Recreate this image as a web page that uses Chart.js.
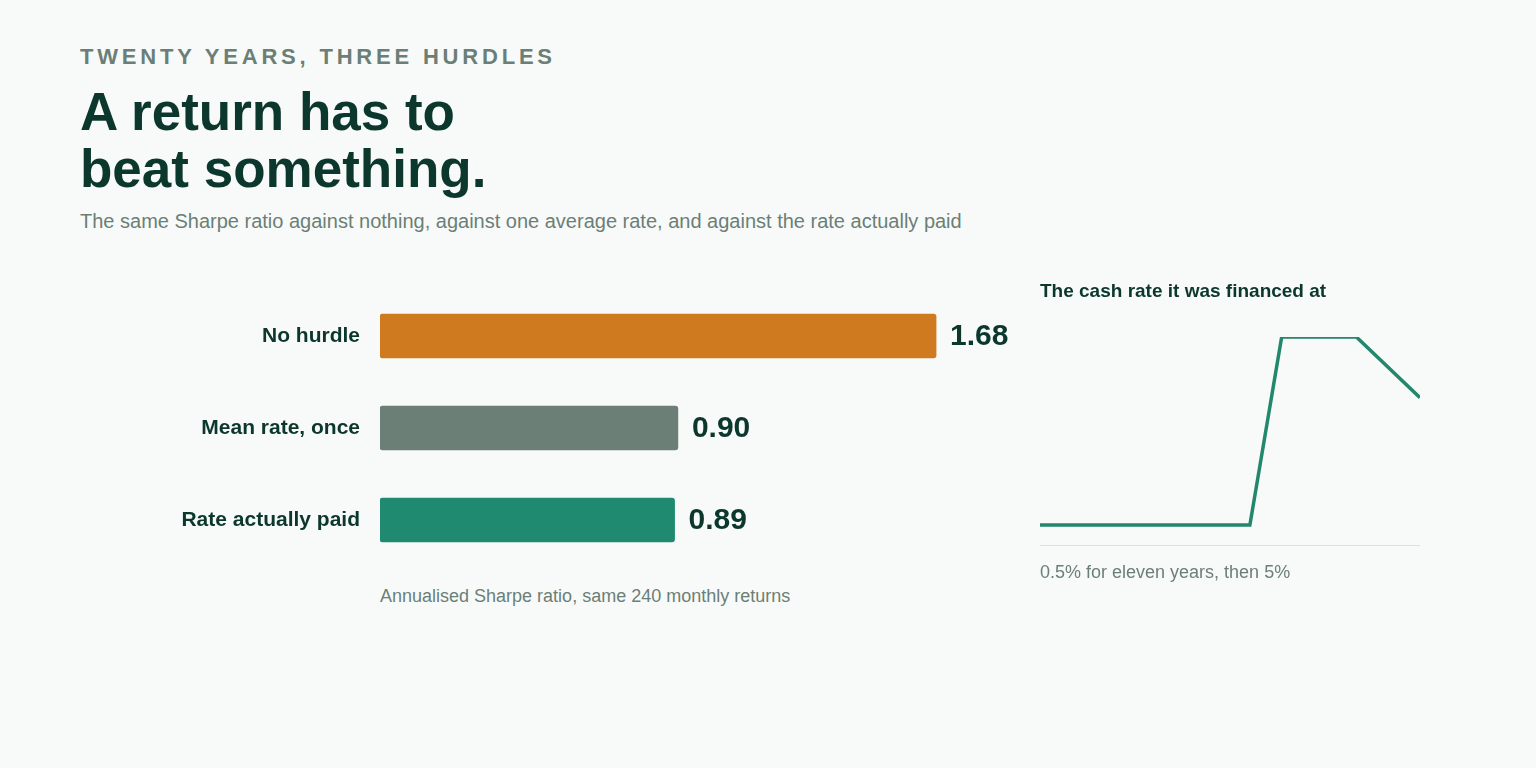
<!DOCTYPE html>
<html>
<head>
<meta charset="utf-8">
<script src="https://cdn.jsdelivr.net/npm/chart.js@4"></script>
<style>
  html, body { margin: 0; padding: 0; }
  body {
    width: 1536px; height: 768px; background: #f8faf9; position: relative; overflow: hidden;
    font-family: "Liberation Sans", Arial, sans-serif;
  }
  .abs { position: absolute; white-space: nowrap; }
  #eyebrow { left: 80px; top: 46px; font-size: 22px; line-height: 22px; font-weight: bold; letter-spacing: 3.8px; color: #6b7f76; }
  #title { left: 80px; top: 83px; font-size: 53px; line-height: 57px; font-weight: bold; color: #0b372c; }
  #subtitle { left: 80px; top: 211px; font-size: 20px; line-height: 20px; color: #6b7f76; }
  #barNote { left: 380px; top: 587px; font-size: 18px; line-height: 18px; color: #6b7f76; }
  #lineTitle { left: 1040px; top: 281px; font-size: 19px; line-height: 19px; font-weight: bold; color: #0b372c; }
  #lineNote { left: 1040px; top: 563px; font-size: 18px; line-height: 18px; color: #6b7f76; }
  #barChart { position: absolute; left: 160px; top: 290px; }
  #lineChart { position: absolute; left: 1040px; top: 327px; }
</style>
</head>
<body>
<div class="abs" id="eyebrow">TWENTY YEARS, THREE HURDLES</div>
<div class="abs" id="title">A return has to<br>beat something.</div>
<div class="abs" id="subtitle">The same Sharpe ratio against nothing, against one average rate, and against the rate actually paid</div>
<canvas id="barChart" width="882" height="276"></canvas>
<div class="abs" id="barNote">Annualised Sharpe ratio, same 240 monthly returns</div>
<div class="abs" id="lineTitle">The cash rate it was financed at</div>
<canvas id="lineChart" width="380" height="219"></canvas>
<div class="abs" id="lineNote">0.5% for eleven years, then 5%</div>

<script>
const hurdles = ['No hurdle', 'Mean rate, once', 'Rate actually paid']
const sharpe = [1.68, 0.90, 0.89]
const barColors = ['#d07a1f', '#6b7f76', '#1f8a70']

const months = [0, 132, 152, 199, 239]
const cashRate = [0.5, 0.5, 5, 5, 3.55]

const dark = '#0b372c'

const valueLabels = {
    id: 'valueLabels',
    afterDatasetsDraw(chart) {
        const ctx = chart.ctx
        const meta = chart.getDatasetMeta(0)
        ctx.save()
        ctx.font = 'bold 30px "Liberation Sans", Arial, sans-serif'
        ctx.fillStyle = dark
        ctx.textAlign = 'left'
        ctx.textBaseline = 'middle'
        meta.data.forEach((bar, i) => {
            ctx.fillText(sharpe[i].toFixed(2), bar.x + 14, bar.y + 1)
        })
        ctx.restore()
    }
}

document.addEventListener('DOMContentLoaded', function() {
    new Chart(document.getElementById('barChart').getContext('2d'), {
        type: 'bar',
        data: {
            labels: hurdles,
            datasets: [{
                data: sharpe,
                backgroundColor: barColors,
                barThickness: 44,
                borderRadius: 3,
                borderSkipped: false
            }]
        },
        options: {
            indexAxis: 'y',
            responsive: false,
            animation: false,
            devicePixelRatio: 1,
            layout: { padding: 0 },
            plugins: { legend: { display: false }, tooltip: { enabled: false } },
            scales: {
                x: { display: false, min: 0, max: 2 },
                y: {
                    afterFit: (scale) => {
                        scale.width = 220
                        scale.paddingTop = 0
                        scale.paddingBottom = 0
                    },
                    grid: { display: false, drawTicks: false },
                    border: { display: false },
                    ticks: {
                        padding: 20,
                        color: dark,
                        font: { family: '"Liberation Sans", Arial, sans-serif', size: 21, weight: 'bold' }
                    }
                }
            }
        },
        plugins: [valueLabels]
    })

    new Chart(document.getElementById('lineChart').getContext('2d'), {
        type: 'line',
        data: {
            datasets: [{
                data: months.map((m, i) => ({ x: m, y: cashRate[i] })),
                borderColor: '#23876e',
                borderWidth: 3.5,
                pointRadius: 0,
                tension: 0,
                fill: false
            }]
        },
        options: {
            responsive: false,
            animation: false,
            devicePixelRatio: 1,
            layout: { padding: { top: 10, bottom: 0, left: 0, right: 0 } },
            plugins: { legend: { display: false }, tooltip: { enabled: false } },
            scales: {
                x: {
                    type: 'linear', min: 0, max: 239,
                    afterFit: (scale) => { scale.height = 0 },
                    grid: { display: false, drawTicks: false },
                    ticks: { display: false },
                    border: { display: true, color: '#dde1df', width: 2 }
                },
                y: { display: false, min: 0, max: 5 }
            }
        }
    })
})
</script>
</body>
</html>
